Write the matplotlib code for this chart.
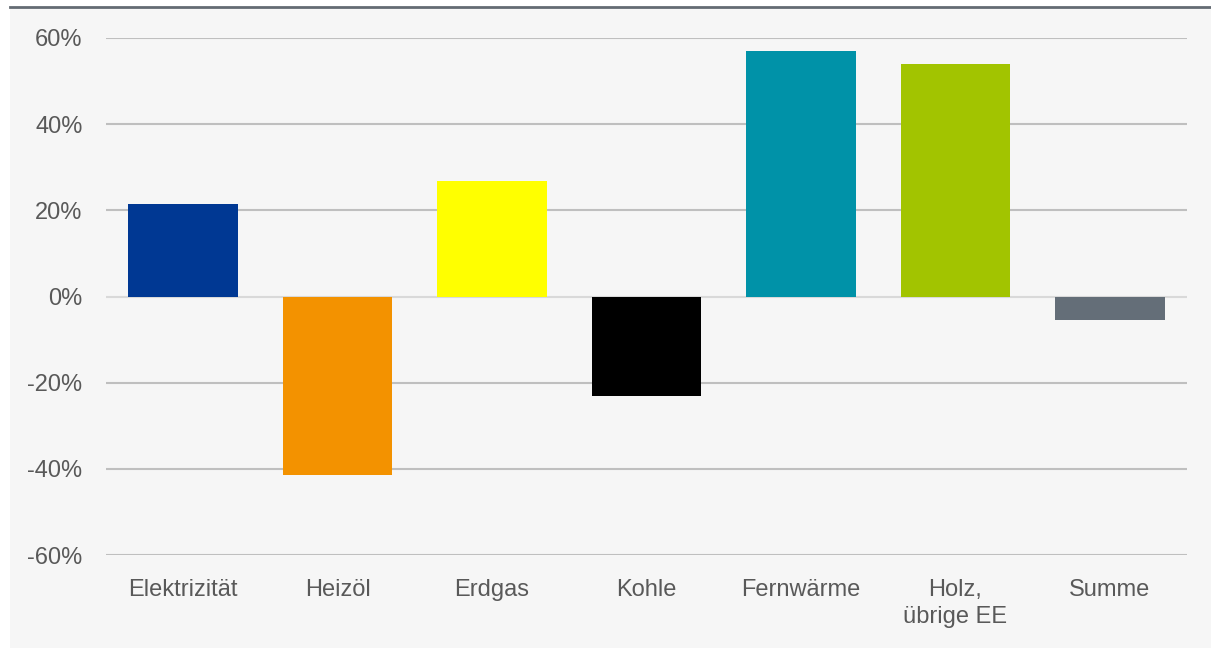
import matplotlib
matplotlib.use("Agg")
import matplotlib.pyplot as plt
from matplotlib.patches import Rectangle
from matplotlib.lines import Line2D
from matplotlib.ticker import FuncFormatter

# Daten
kategorien = ["Elektrizität", "Heizöl", "Erdgas", "Kohle", "Fernwärme", "Holz,\nübrige EE", "Summe"]
veraenderung = [21.5, -41.5, 26.7, -23.0, 57.0, 54.0, -5.4]
farben = ["#003893", "#f39200", "#ffff00", "#000000", "#0092a8", "#a2c400", "#646e78"]
y_ticks = [-60, -40, -20, 0, 20, 40, 60]

plt.rcParams["font.family"] = ["Liberation Sans", "DejaVu Sans"]

fig = plt.figure(figsize=(12.11, 6.48), dpi=100)
fig.patch.set_facecolor("white")

# Hintergrund und obere Linie
fig.add_artist(Rectangle((10 / 1211, 0), 1 - 10 / 1211, 1 - 8 / 648,
                         transform=fig.transFigure, facecolor="#f6f6f6",
                         edgecolor="none", zorder=-5))
fig.add_artist(Line2D([10 / 1211, 1], [1 - 7 / 648, 1 - 7 / 648],
                      transform=fig.transFigure, color="#646b73", lw=2, zorder=-4))

ax = fig.add_axes([106 / 1211, 1 - 555 / 648, (1187 - 106) / 1211, (555 - 38) / 648])
ax.set_facecolor("none")

x = range(len(kategorien))
ax.bar(x, veraenderung, width=0.71, color=farben, zorder=3)

ax.set_xlim(-0.5, len(kategorien) - 0.5)
ax.set_ylim(-60, 60)
ax.set_yticks(y_ticks)
ax.yaxis.set_major_formatter(FuncFormatter(lambda v, p: f"{v:.0f}%"))
ax.set_xticks(list(x))
ax.set_xticklabels(kategorien, linespacing=1.3)

# Gitterlinien
for t in y_ticks:
    if t == 0:
        ax.axhline(t, color="#d9d9d9", lw=1.5, zorder=2)
    else:
        ax.axhline(t, color="#bfbfbf", lw=1.5, zorder=1)

for s in ax.spines.values():
    s.set_visible(False)

ax.tick_params(axis="both", length=0, labelsize=17, labelcolor="#595959")
ax.tick_params(axis="y", pad=17)
ax.tick_params(axis="x", pad=17)

fig.savefig("out.png", dpi=100, facecolor=fig.get_facecolor())
